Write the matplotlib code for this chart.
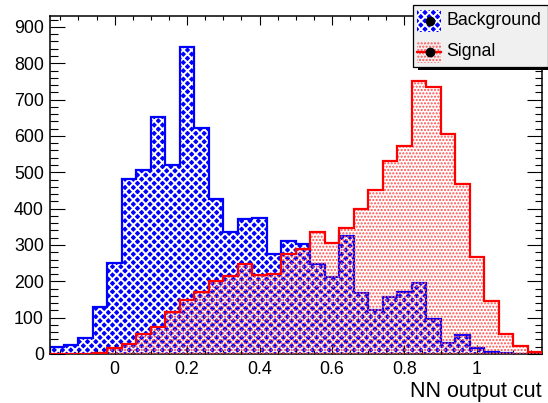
import numpy as np
import matplotlib
matplotlib.use("Agg")
import matplotlib.pyplot as plt
from matplotlib import ticker
from matplotlib.patches import Rectangle

plt.rcParams['font.family'] = ['Liberation Sans', 'DejaVu Sans']

# histogram binning: 34 bins of 0.04 from -0.18 to 1.18
edges = np.linspace(-0.18, 1.18, 35)

background = [18, 25, 44, 130, 250, 481, 505, 652, 520, 845,
              623, 427, 335, 372, 375, 276, 312, 302, 247, 211,
              325, 167, 121, 156, 171, 194, 97, 30, 52, 16,
              6, 2, 0, 0]
signal = [0, 0, 0, 4, 17, 27, 56, 73, 115, 148,
          170, 201, 215, 248, 217, 220, 276, 288, 336, 306,
          346, 398, 452, 530, 571, 751, 734, 605, 468, 266,
          147, 55, 23, 5]

BG_HATCH_LW = 1.4
SIG_HATCH_LW = 1.0
SIG_DOTS = (1, 0.3, 0.3)

W, H = 548, 403
fig = plt.figure(figsize=(W / 100, H / 100), dpi=100)
ax = fig.add_axes([49.5 / W, 1 - 354 / H, (542 - 49.5) / W, (354 - 16) / H])

# background: blue with white woven hatch
with plt.rc_context({'hatch.linewidth': BG_HATCH_LW}):
    ax.stairs(background, edges, fill=True, facecolor='blue', edgecolor='white',
              hatch='xxxx', linewidth=0, zorder=1)
ax.stairs(background, edges, baseline=0, color='blue', linewidth=1.6, zorder=2)
# signal: red dotted fill
with plt.rc_context({'hatch.linewidth': SIG_HATCH_LW}):
    ax.stairs(signal, edges, fill=True, facecolor='none', edgecolor=SIG_DOTS,
              hatch='.....', linewidth=0, zorder=3)
ax.stairs(signal, edges, baseline=0, color='red', linewidth=1.6, zorder=4)

ax.set_xlim(-0.18, 1.18)
ax.set_ylim(0, 930)

ax.xaxis.set_major_locator(ticker.MultipleLocator(0.2))
ax.xaxis.set_minor_locator(ticker.MultipleLocator(0.05))
ax.yaxis.set_major_locator(ticker.MultipleLocator(100))
ax.yaxis.set_minor_locator(ticker.MultipleLocator(20))
ax.xaxis.set_major_formatter(ticker.FuncFormatter(lambda v, p: '%g' % round(v, 2)))

ax.tick_params(which='both', direction='in', top=True, right=True,
               width=0.8, labelsize=12.8)
ax.tick_params(axis='x', which='major', length=6.5, pad=5)
ax.tick_params(axis='x', which='minor', length=3.2)
ax.tick_params(axis='y', which='major', length=10.8, pad=4)
ax.tick_params(axis='y', which='minor', length=5.4)
for s in ax.spines.values():
    s.set_linewidth(1.1)

fig.text(542 / W, 1 - 396.7 / H, 'NN output cut', ha='right', va='baseline',
         fontsize=15.5)

# legend box drawn in pixel space
lg = fig.add_axes([0, 0, 1, 1], zorder=10)
lg.set_xlim(0, W)
lg.set_ylim(H, 0)
lg.axis('off')
lg.add_patch(Rectangle((418, 8), 140, 61.5, facecolor='black', edgecolor='none'))
lg.add_patch(Rectangle((412.7, 5), 134.8, 62, facecolor='#f0f0f0',
                       edgecolor='black', linewidth=0.9))
with plt.rc_context({'hatch.linewidth': BG_HATCH_LW}):
    lg.add_patch(Rectangle((416.7, 9.5), 24, 22, facecolor='blue',
                           edgecolor='white', hatch='xxxx', linewidth=0))
lg.plot([430], [20.5], 'o', color='black', markersize=6)
with plt.rc_context({'hatch.linewidth': SIG_HATCH_LW}):
    lg.add_patch(Rectangle((416.7, 41), 24, 22, facecolor='none',
                           edgecolor=SIG_DOTS, hatch='.....', linewidth=0))
lg.plot([416.7, 440.7], [52, 52], color='red', linewidth=1.6)
lg.plot([430], [52], 'o', color='black', markersize=6)
lg.text(446.7, 20.5, 'Background', fontsize=12.8, va='center', ha='left')
lg.text(446.7, 52, 'Signal', fontsize=12.8, va='center', ha='left')

fig.savefig('out.png', dpi=100)
